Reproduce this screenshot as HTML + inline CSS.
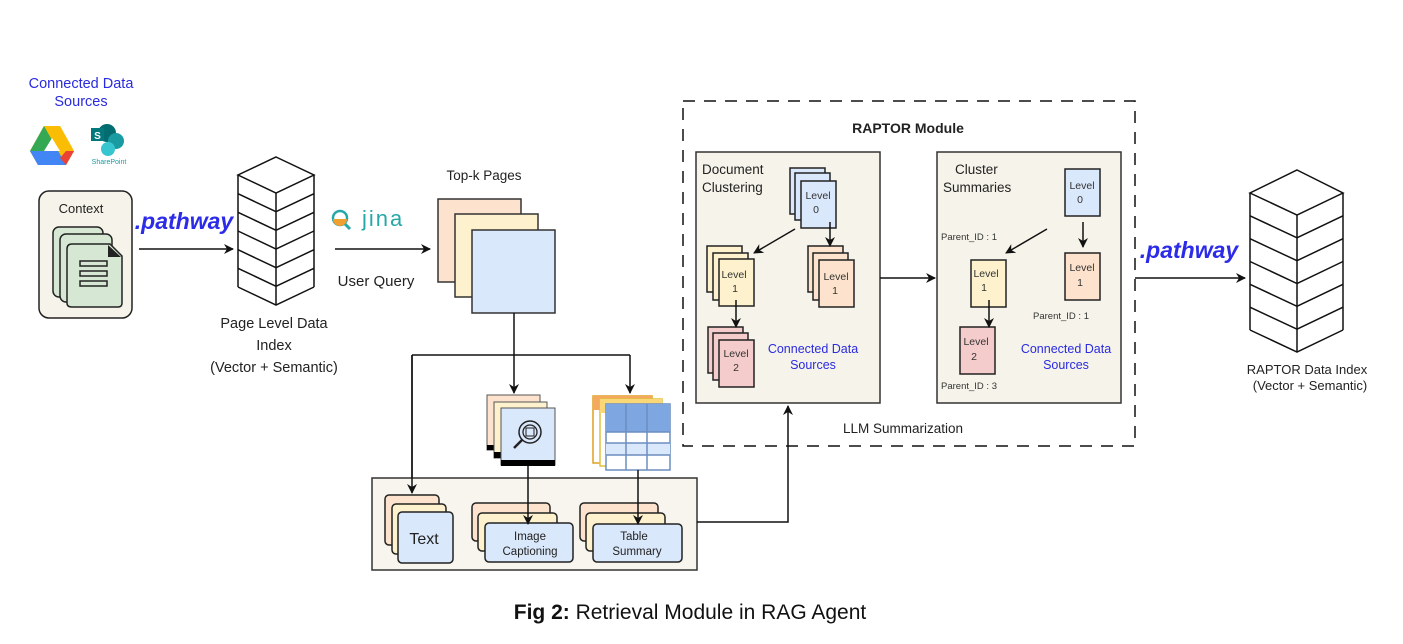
<!DOCTYPE html>
<html><head><meta charset="utf-8"><style>
html,body{margin:0;padding:0;background:#fff;}
svg{display:block;}
text{font-family:"Liberation Sans",sans-serif;}
</style></head><body>
<svg width="1403" height="644" viewBox="0 0 1403 644" xmlns="http://www.w3.org/2000/svg">
<defs>
<marker id="ah" markerWidth="10" markerHeight="10" refX="9" refY="5" orient="auto" markerUnits="userSpaceOnUse">
<path d="M0,0 L10,5 L0,10 L3,5 Z" fill="#111"/></marker>
</defs>
<rect width="1403" height="644" fill="#fff"/>

<!-- Connected data sources -->
<text x="81" y="88" font-size="14.5" fill="#2a2ae0" text-anchor="middle">Connected Data</text>
<text x="81" y="106" font-size="14.5" fill="#2a2ae0" text-anchor="middle">Sources</text>
<!-- Google drive -->
<polygon points="44,126 60,126 74,151 66,165 38,165 30,151" fill="#fbbc04"/>
<polygon points="44,126 52,140 38,165 30,151" fill="#34a853"/>
<polygon points="30,151 74,151 66,165 38,165" fill="#4285f4"/>
<polygon points="60,126 74,151 66,165 52,140" fill="#fbbc04"/>
<polygon points="66,151 74,151 66,165 60,158" fill="#ea4335"/>
<polygon points="44,151 60,151 52,138" fill="#fff"/>
<!-- sharepoint -->
<circle cx="107" cy="133" r="9" fill="#036c70"/>
<circle cx="116" cy="141" r="8" fill="#1a9ba1"/>
<circle cx="108" cy="149" r="7" fill="#37c6d0"/>
<rect x="91" y="128" width="13" height="13" fill="#03787c"/>
<text x="97.5" y="139" font-size="10" fill="#fff" font-weight="bold" text-anchor="middle">S</text>
<text x="109" y="164" font-size="7" fill="#1a9ba1" text-anchor="middle">SharePoint</text>

<!-- Context box -->
<rect x="39" y="191" width="93" height="127" rx="10" fill="#f6f4ea" stroke="#222" stroke-width="1.5"/>
<text x="81" y="213" font-size="13" fill="#222" text-anchor="middle">Context</text>
<rect x="53" y="227" width="50" height="70" rx="6" fill="#d6e8d4" stroke="#222" stroke-width="1.5"/>
<rect x="60" y="234" width="52" height="68" rx="6" fill="#d6e8d4" stroke="#222" stroke-width="1.5"/>
<path d="M72,244 L110,244 L122,256 L122,303 Q122,307 118,307 L72,307 Q67,307 67,303 L67,249 Q67,244 72,244Z" fill="#d6e8d4" stroke="#222" stroke-width="1.5"/>
<path d="M108,245 L121,257 L108,257Z" fill="#222"/>
<rect x="80" y="261" width="27" height="5" fill="none" stroke="#222" stroke-width="1.5"/>
<rect x="80" y="271" width="27" height="5" fill="none" stroke="#222" stroke-width="1.5"/>
<rect x="80" y="281" width="27" height="5" fill="none" stroke="#222" stroke-width="1.5"/>

<text x="184" y="229" font-size="23" font-weight="bold" fill="#2b2be8" text-anchor="middle" font-style="italic">.pathway</text>
<line x1="139" y1="249" x2="233" y2="249" stroke="#111" stroke-width="1.5" marker-end="url(#ah)"/>

<!-- DB1 -->
<g fill="none" stroke="#111" stroke-width="1.5">
<polygon points="276,157 314,175 276,193 238,175" fill="#fff"/>
<line x1="238" y1="175" x2="238" y2="287"/><line x1="314" y1="175" x2="314" y2="287"/><line x1="276" y1="193" x2="276" y2="305"/>
<polyline points="238,193.7 276,211.7 314,193.7"/>
<polyline points="238,212.3 276,230.3 314,212.3"/>
<polyline points="238,231 276,249 314,231"/>
<polyline points="238,249.7 276,267.7 314,249.7"/>
<polyline points="238,268.3 276,286.3 314,268.3"/>
<polyline points="238,287 276,305 314,287"/>
</g>
<text x="274" y="328" font-size="14.5" fill="#222" text-anchor="middle">Page Level Data</text>
<text x="274" y="350" font-size="14.5" fill="#222" text-anchor="middle">Index</text>
<text x="274" y="372" font-size="14.5" fill="#222" text-anchor="middle">(Vector + Semantic)</text>

<!-- jina -->
<circle cx="340" cy="218" r="7" fill="#fff" stroke="#27a8a8" stroke-width="2.5"/>
<path d="M333,219 A7,7 0 0 0 347,219 Z" fill="#f0a030"/>
<line x1="345" y1="224" x2="350" y2="229" stroke="#27a8a8" stroke-width="3"/>
<text x="362" y="226" font-size="22" fill="#27a8a8" letter-spacing="2">jina</text>
<line x1="335" y1="249" x2="430" y2="249" stroke="#111" stroke-width="1.5" marker-end="url(#ah)"/>
<text x="376" y="286" font-size="15" fill="#222" text-anchor="middle">User Query</text>

<!-- Top-k -->
<text x="484" y="180" font-size="13.5" fill="#222" text-anchor="middle">Top-k Pages</text>
<rect x="438" y="199" width="83" height="83" fill="#fde3cd" stroke="#333" stroke-width="1.5"/>
<rect x="455" y="214" width="83" height="83" fill="#fdf2cd" stroke="#333" stroke-width="1.5"/>
<rect x="472" y="230" width="83" height="83" fill="#dae8fb" stroke="#333" stroke-width="1.5"/>
<g stroke="#111" stroke-width="1.5" fill="none">
<line x1="514" y1="313" x2="514" y2="355"/>
<line x1="412" y1="355" x2="630" y2="355"/>
<line x1="412" y1="355" x2="412" y2="493" marker-end="url(#ah)"/>
<line x1="514" y1="355" x2="514" y2="393" marker-end="url(#ah)"/>
<line x1="630" y1="355" x2="630" y2="393" marker-end="url(#ah)"/>
</g>

<!-- image stack -->
<rect x="487" y="395" width="53" height="55" fill="#fde3cd" stroke="#555" stroke-width="1"/>
<rect x="487" y="445" width="7" height="5" fill="#000"/>
<rect x="494" y="402" width="53" height="56" fill="#fdf2cd" stroke="#555" stroke-width="1"/>
<rect x="494" y="452" width="7" height="6" fill="#000"/>
<rect x="501" y="408" width="54" height="57" fill="#dae8fb" stroke="#555" stroke-width="1"/>
<rect x="501" y="460" width="54" height="6" fill="#000"/>
<circle cx="530" cy="432" r="11" fill="none" stroke="#222" stroke-width="1.5"/>
<circle cx="530" cy="432" r="7" fill="none" stroke="#222" stroke-width="1.3"/>
<rect x="526" y="428" width="8" height="8" fill="none" stroke="#222" stroke-width="1"/>
<line x1="522" y1="440" x2="514" y2="448" stroke="#222" stroke-width="2.5"/>

<!-- table stack -->
<rect x="593" y="396" width="59" height="67" fill="#fff" stroke="#e0a020" stroke-width="1.5"/>
<rect x="593" y="396" width="59" height="14" fill="#f5a860"/>
<rect x="600" y="399" width="62" height="67" fill="#fff" stroke="#e0c040" stroke-width="1.5"/>
<rect x="600" y="399" width="62" height="14" fill="#fad878"/>
<rect x="606" y="404" width="64" height="66" fill="#fff" stroke="#6c8ebf" stroke-width="1.5"/>
<rect x="606" y="404" width="64" height="28" fill="#7ea6e0"/>
<rect x="606" y="443" width="64" height="12" fill="#dae8fb"/>
<g stroke="#6c8ebf" stroke-width="1.5"><line x1="606" y1="432" x2="670" y2="432"/><line x1="606" y1="443" x2="670" y2="443"/><line x1="606" y1="455" x2="670" y2="455"/><line x1="626" y1="404" x2="626" y2="470"/><line x1="647" y1="404" x2="647" y2="470"/></g>

<!-- bottom box -->
<rect x="372" y="478" width="325" height="92" fill="#f7f5ed" stroke="#333" stroke-width="1.5"/>
<line x1="412" y1="355" x2="412" y2="493" stroke="#111" stroke-width="1.5" marker-end="url(#ah)"/>
<rect x="385" y="495" width="54" height="50" rx="4" fill="#fde3cd" stroke="#222" stroke-width="1.5"/>
<rect x="392" y="504" width="54" height="50" rx="4" fill="#fdf2cd" stroke="#222" stroke-width="1.5"/>
<rect x="398" y="512" width="55" height="51" rx="4" fill="#dae8fb" stroke="#222" stroke-width="1.5"/>
<text x="424" y="544" font-size="16" fill="#222" text-anchor="middle">Text</text>
<rect x="472" y="503" width="78" height="38" rx="4" fill="#fde3cd" stroke="#222" stroke-width="1.5"/>
<rect x="478" y="513" width="79" height="38" rx="4" fill="#fdf2cd" stroke="#222" stroke-width="1.5"/>
<rect x="485" y="523" width="88" height="39" rx="4" fill="#dae8fb" stroke="#222" stroke-width="1.5"/>
<text x="530" y="540" font-size="11.5" fill="#222" text-anchor="middle">Image</text>
<text x="530" y="555" font-size="11.5" fill="#222" text-anchor="middle">Captioning</text>
<rect x="580" y="503" width="78" height="38" rx="4" fill="#fde3cd" stroke="#222" stroke-width="1.5"/>
<rect x="586" y="513" width="79" height="38" rx="4" fill="#fdf2cd" stroke="#222" stroke-width="1.5"/>
<rect x="593" y="524" width="89" height="38" rx="4" fill="#dae8fb" stroke="#222" stroke-width="1.5"/>
<text x="634" y="540" font-size="11.5" fill="#222" text-anchor="middle">Table</text>
<text x="637" y="555" font-size="11.5" fill="#222" text-anchor="middle">Summary</text>
<line x1="528" y1="466" x2="528" y2="524" stroke="#111" stroke-width="1.5" marker-end="url(#ah)"/>
<line x1="638" y1="470" x2="638" y2="524" stroke="#111" stroke-width="1.5" marker-end="url(#ah)"/>
<polyline points="697,522 788,522 788,406" fill="none" stroke="#111" stroke-width="1.5" marker-end="url(#ah)"/>

<!-- RAPTOR dashed -->
<rect x="683" y="101" width="452" height="345" fill="none" stroke="#111" stroke-width="1.5" stroke-dasharray="12,9"/>
<text x="908" y="133" font-size="14" font-weight="bold" fill="#222" text-anchor="middle">RAPTOR Module</text>
<rect x="696" y="152" width="184" height="251" fill="#f6f4ea" stroke="#333" stroke-width="1.5"/>
<rect x="937" y="152" width="184" height="251" fill="#f6f4ea" stroke="#333" stroke-width="1.5"/>
<line x1="880" y1="278" x2="935" y2="278" stroke="#111" stroke-width="1.5" marker-end="url(#ah)"/>
<text x="702" y="174" font-size="13.5" fill="#222">Document</text>
<text x="702" y="192" font-size="13.5" fill="#222">Clustering</text>
<text x="955" y="174" font-size="13.5" fill="#222">Cluster</text>
<text x="943" y="192" font-size="13.5" fill="#222">Summaries</text>
<g stroke="#222" stroke-width="1.5">
<rect x="790" y="168" width="35" height="46" fill="#dae8fb"/>
<rect x="795" y="173" width="35" height="47" fill="#dae8fb"/>
<rect x="801" y="181" width="35" height="47" fill="#dae8fb"/>
<rect x="707" y="246" width="35" height="46" fill="#fdf2cd"/>
<rect x="713" y="253" width="35" height="47" fill="#fdf2cd"/>
<rect x="719" y="259" width="35" height="47" fill="#fdf2cd"/>
<rect x="808" y="246" width="35" height="46" fill="#fde3cd"/>
<rect x="813" y="253" width="35" height="47" fill="#fde3cd"/>
<rect x="819" y="260" width="35" height="47" fill="#fde3cd"/>
<rect x="708" y="327" width="35" height="46" fill="#f5cccc"/>
<rect x="713" y="333" width="35" height="47" fill="#f5cccc"/>
<rect x="719" y="340" width="35" height="47" fill="#f5cccc"/>
<rect x="1065" y="169" width="35" height="47" fill="#dae8fb"/>
<rect x="1065" y="253" width="35" height="47" fill="#fde3cd"/>
<rect x="971" y="260" width="35" height="47" fill="#fdf2cd"/>
<rect x="960" y="327" width="35" height="47" fill="#f5cccc"/>
</g>
<g font-size="10.5" fill="#333" text-anchor="middle">
<text x="818" y="199">Level</text><text x="816" y="213">0</text>
<text x="734" y="278">Level</text><text x="735" y="292">1</text>
<text x="836" y="280">Level</text><text x="835" y="294">1</text>
<text x="736" y="357">Level</text><text x="736" y="371">2</text>
<text x="1082" y="189">Level</text><text x="1080" y="203">0</text>
<text x="1082" y="271">Level</text><text x="1080" y="286">1</text>
<text x="986" y="277">Level</text><text x="984" y="291">1</text>
<text x="976" y="345">Level</text><text x="974" y="360">2</text>
</g>
<g stroke="#111" stroke-width="1.5" fill="none">
<line x1="795" y1="229" x2="754" y2="253" marker-end="url(#ah)"/>
<line x1="830" y1="222" x2="830" y2="246" marker-end="url(#ah)"/>
<line x1="736" y1="300" x2="736" y2="327" marker-end="url(#ah)"/>
<line x1="1047" y1="229" x2="1006" y2="253" marker-end="url(#ah)"/>
<line x1="1083" y1="222" x2="1083" y2="247" marker-end="url(#ah)"/>
<line x1="989" y1="300" x2="989" y2="327" marker-end="url(#ah)"/>
</g>
<g font-size="9.5" fill="#333" font-family="Liberation Mono">
<text x="941" y="240" font-family="Liberation Mono">Parent_ID : 1</text>
<text x="1033" y="319" font-family="Liberation Mono">Parent_ID : 1</text>
<text x="941" y="389" font-family="Liberation Mono">Parent_ID : 3</text>
</g>
<g font-size="12.5" fill="#2a2ae0" text-anchor="middle">
<text x="813" y="353">Connected Data</text><text x="813" y="369">Sources</text>
<text x="1066" y="353">Connected Data</text><text x="1066" y="369">Sources</text>
</g>
<text x="903" y="433" font-size="13.5" fill="#222" text-anchor="middle">LLM Summarization</text>

<!-- right pathway + DB2 -->
<text x="1189" y="258" font-size="23" font-weight="bold" fill="#2b2be8" text-anchor="middle" font-style="italic">.pathway</text>
<line x1="1135" y1="278" x2="1245" y2="278" stroke="#111" stroke-width="1.5" marker-end="url(#ah)"/>
<g fill="none" stroke="#111" stroke-width="1.5">
<polygon points="1297,170 1343,193 1297,215 1250,193" fill="#fff"/>
<line x1="1250" y1="193" x2="1250" y2="330"/><line x1="1343" y1="193" x2="1343" y2="330"/><line x1="1297" y1="215" x2="1297" y2="352"/>
<polyline points="1250,215.8 1297,237.8 1343,215.8"/>
<polyline points="1250,238.7 1297,260.7 1343,238.7"/>
<polyline points="1250,261.5 1297,283.5 1343,261.5"/>
<polyline points="1250,284.3 1297,306.3 1343,284.3"/>
<polyline points="1250,307.2 1297,329.2 1343,307.2"/>
<polyline points="1250,330 1297,352 1343,330"/>
</g>
<text x="1307" y="374" font-size="13" fill="#222" text-anchor="middle">RAPTOR Data Index</text>
<text x="1310" y="390" font-size="13" fill="#222" text-anchor="middle">(Vector + Semantic)</text>

<text x="690" y="619" font-size="21" fill="#111" text-anchor="middle"><tspan font-weight="bold">Fig 2:</tspan> Retrieval Module in RAG Agent</text>
</svg>
</body></html>
